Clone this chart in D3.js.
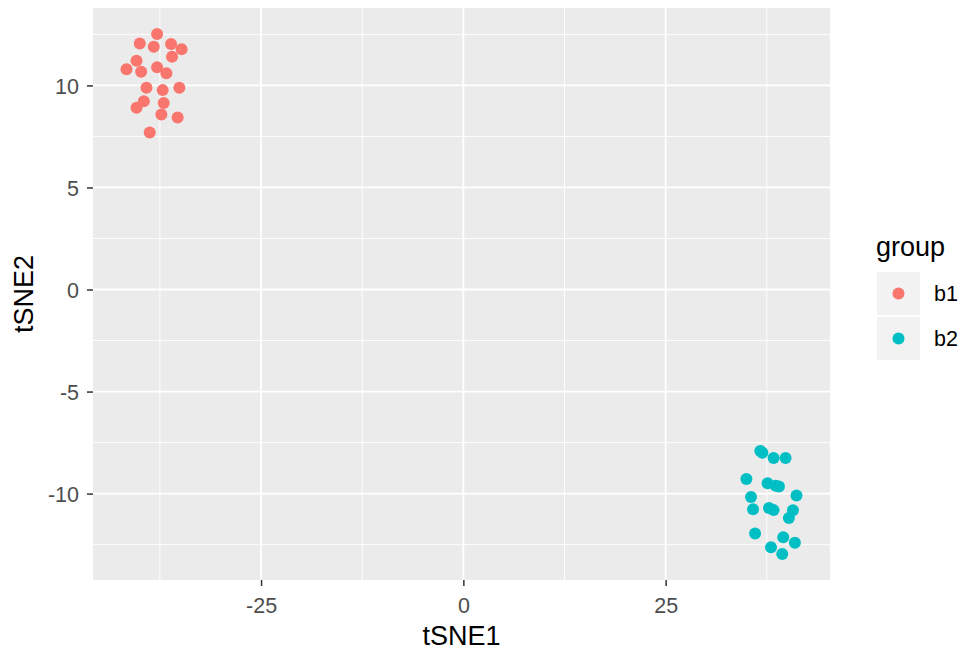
<!DOCTYPE html>
<html><head><meta charset="utf-8">
<script src="https://cdn.jsdelivr.net/npm/d3@7"></script>
<style>body{margin:0;background:#fff;font-family:"Liberation Sans",Arial,sans-serif;}</style>
</head><body><svg id="c" width="974" height="658"></svg>
<script>
const groups = ["b1","b2"];
const colors = ["#F8766D","#00BFC4"];
const b1x = [-37.85,-39.99,-38.26,-36.12,-34.82,-36.00,-40.39,-41.63,-39.82,-37.85,-36.70,-39.16,-37.16,-35.10,-39.49,-40.39,-37.03,-37.32,-35.31,-38.76];
const b1y = [12.52,12.06,11.90,12.03,11.77,11.41,11.21,10.79,10.67,10.89,10.60,9.89,9.77,9.89,9.23,8.91,9.14,8.57,8.43,7.69];
const b2x = [36.70,36.95,38.34,39.82,34.98,37.60,39.00,38.60,41.17,35.55,35.80,37.77,38.34,40.73,40.23,36.05,39.53,40.97,38.02,39.41];
const b2y = [-7.91,-8.00,-8.26,-8.26,-9.28,-9.49,-9.65,-9.61,-10.09,-10.17,-10.77,-10.71,-10.81,-10.82,-11.20,-11.95,-12.14,-12.41,-12.63,-12.96];
const xTicks = [-25,0,25];
const yTicks = [-10,-5,0,5,10];
const xMinor = [-37.5,-12.5,12.5,37.5];
const yMinor = [-12.5,-7.5,-2.5,2.5,7.5,12.5];

const data = [];
b1x.forEach((v,i)=>data.push({x:v,y:b1y[i],g:"b1"}));
b2x.forEach((v,i)=>data.push({x:v,y:b2y[i],g:"b2"}));

const FONT = "Liberation Sans, Arial, sans-serif";
const svg = d3.select("#c").style("font-family",FONT);
const L=93,R=830,T=8,B=580;
const xs = d3.extent(data,d=>d.x), ys = d3.extent(data,d=>d.y);
const ex=(xs[1]-xs[0])*0.05, ey=(ys[1]-ys[0])*0.05;
const x = d3.scaleLinear().domain([xs[0]-ex,xs[1]+ex]).range([L,R]);
const y = d3.scaleLinear().domain([ys[0]-ey,ys[1]+ey]).range([B,T]);
const col = d3.scaleOrdinal().domain(groups).range(colors);

svg.append("rect").attr("x",L).attr("y",T).attr("width",R-L).attr("height",B-T).attr("fill","#EBEBEB");
const g = svg.append("g");
xMinor.forEach(v=>g.append("line").attr("x1",x(v)).attr("x2",x(v)).attr("y1",T).attr("y2",B).attr("stroke","#fff").attr("stroke-width",0.9));
yMinor.filter(v=>y(v)>T&&y(v)<B).forEach(v=>g.append("line").attr("x1",L).attr("x2",R).attr("y1",y(v)).attr("y2",y(v)).attr("stroke","#fff").attr("stroke-width",0.9));
xTicks.forEach(v=>g.append("line").attr("x1",x(v)).attr("x2",x(v)).attr("y1",T).attr("y2",B).attr("stroke","#fff").attr("stroke-width",1.8));
yTicks.forEach(v=>g.append("line").attr("x1",L).attr("x2",R).attr("y1",y(v)).attr("y2",y(v)).attr("stroke","#fff").attr("stroke-width",1.8));

svg.append("g").selectAll("circle").data(data).join("circle")
  .attr("cx",d=>x(d.x)).attr("cy",d=>y(d.y)).attr("r",6).attr("fill",d=>col(d.g));

const fmt = d=>String(d);
const xa = svg.append("g").attr("transform",`translate(0,${B})`)
  .call(d3.axisBottom(x).tickValues(xTicks).tickSize(6).tickFormat(fmt));
const ya = svg.append("g").attr("transform",`translate(${L},0)`)
  .call(d3.axisLeft(y).tickValues(yTicks).tickSize(6).tickPadding(8).tickFormat(fmt));
[xa,ya].forEach(a=>{
  a.attr("font-family",FONT).attr("font-size",21.5);
  a.select(".domain").remove();
  a.selectAll(".tick line").attr("stroke","#333").attr("stroke-width",1.5);
  a.selectAll(".tick text").attr("fill","#4D4D4D");
});
xa.selectAll(".tick text").attr("y",33).attr("dy",null);
ya.selectAll(".tick text").attr("dy","0.36em");

svg.append("text").attr("x",(L+R)/2).attr("y",645).attr("text-anchor","middle")
  .attr("font-size",27).attr("fill","#000").text("tSNE1");
svg.append("text").attr("transform",`translate(33,${(T+B)/2}) rotate(-90)`).attr("text-anchor","middle")
  .attr("font-size",27).attr("fill","#000").text("tSNE2");

svg.append("text").attr("x",876).attr("y",256).attr("font-size",27).attr("fill","#000").text("group");
groups.forEach((k,i)=>{
  const ky = 272 + i*45;
  svg.append("rect").attr("x",877).attr("y",ky).attr("width",43).attr("height",43).attr("fill","#F2F2F2");
  svg.append("circle").attr("cx",898.5).attr("cy",ky+21.5).attr("r",6).attr("fill",col(k));
  svg.append("text").attr("x",934).attr("y",ky+21.5).attr("dy","0.36em").attr("font-size",21.5).attr("fill","#000").text(k);
});
</script></body></html>
